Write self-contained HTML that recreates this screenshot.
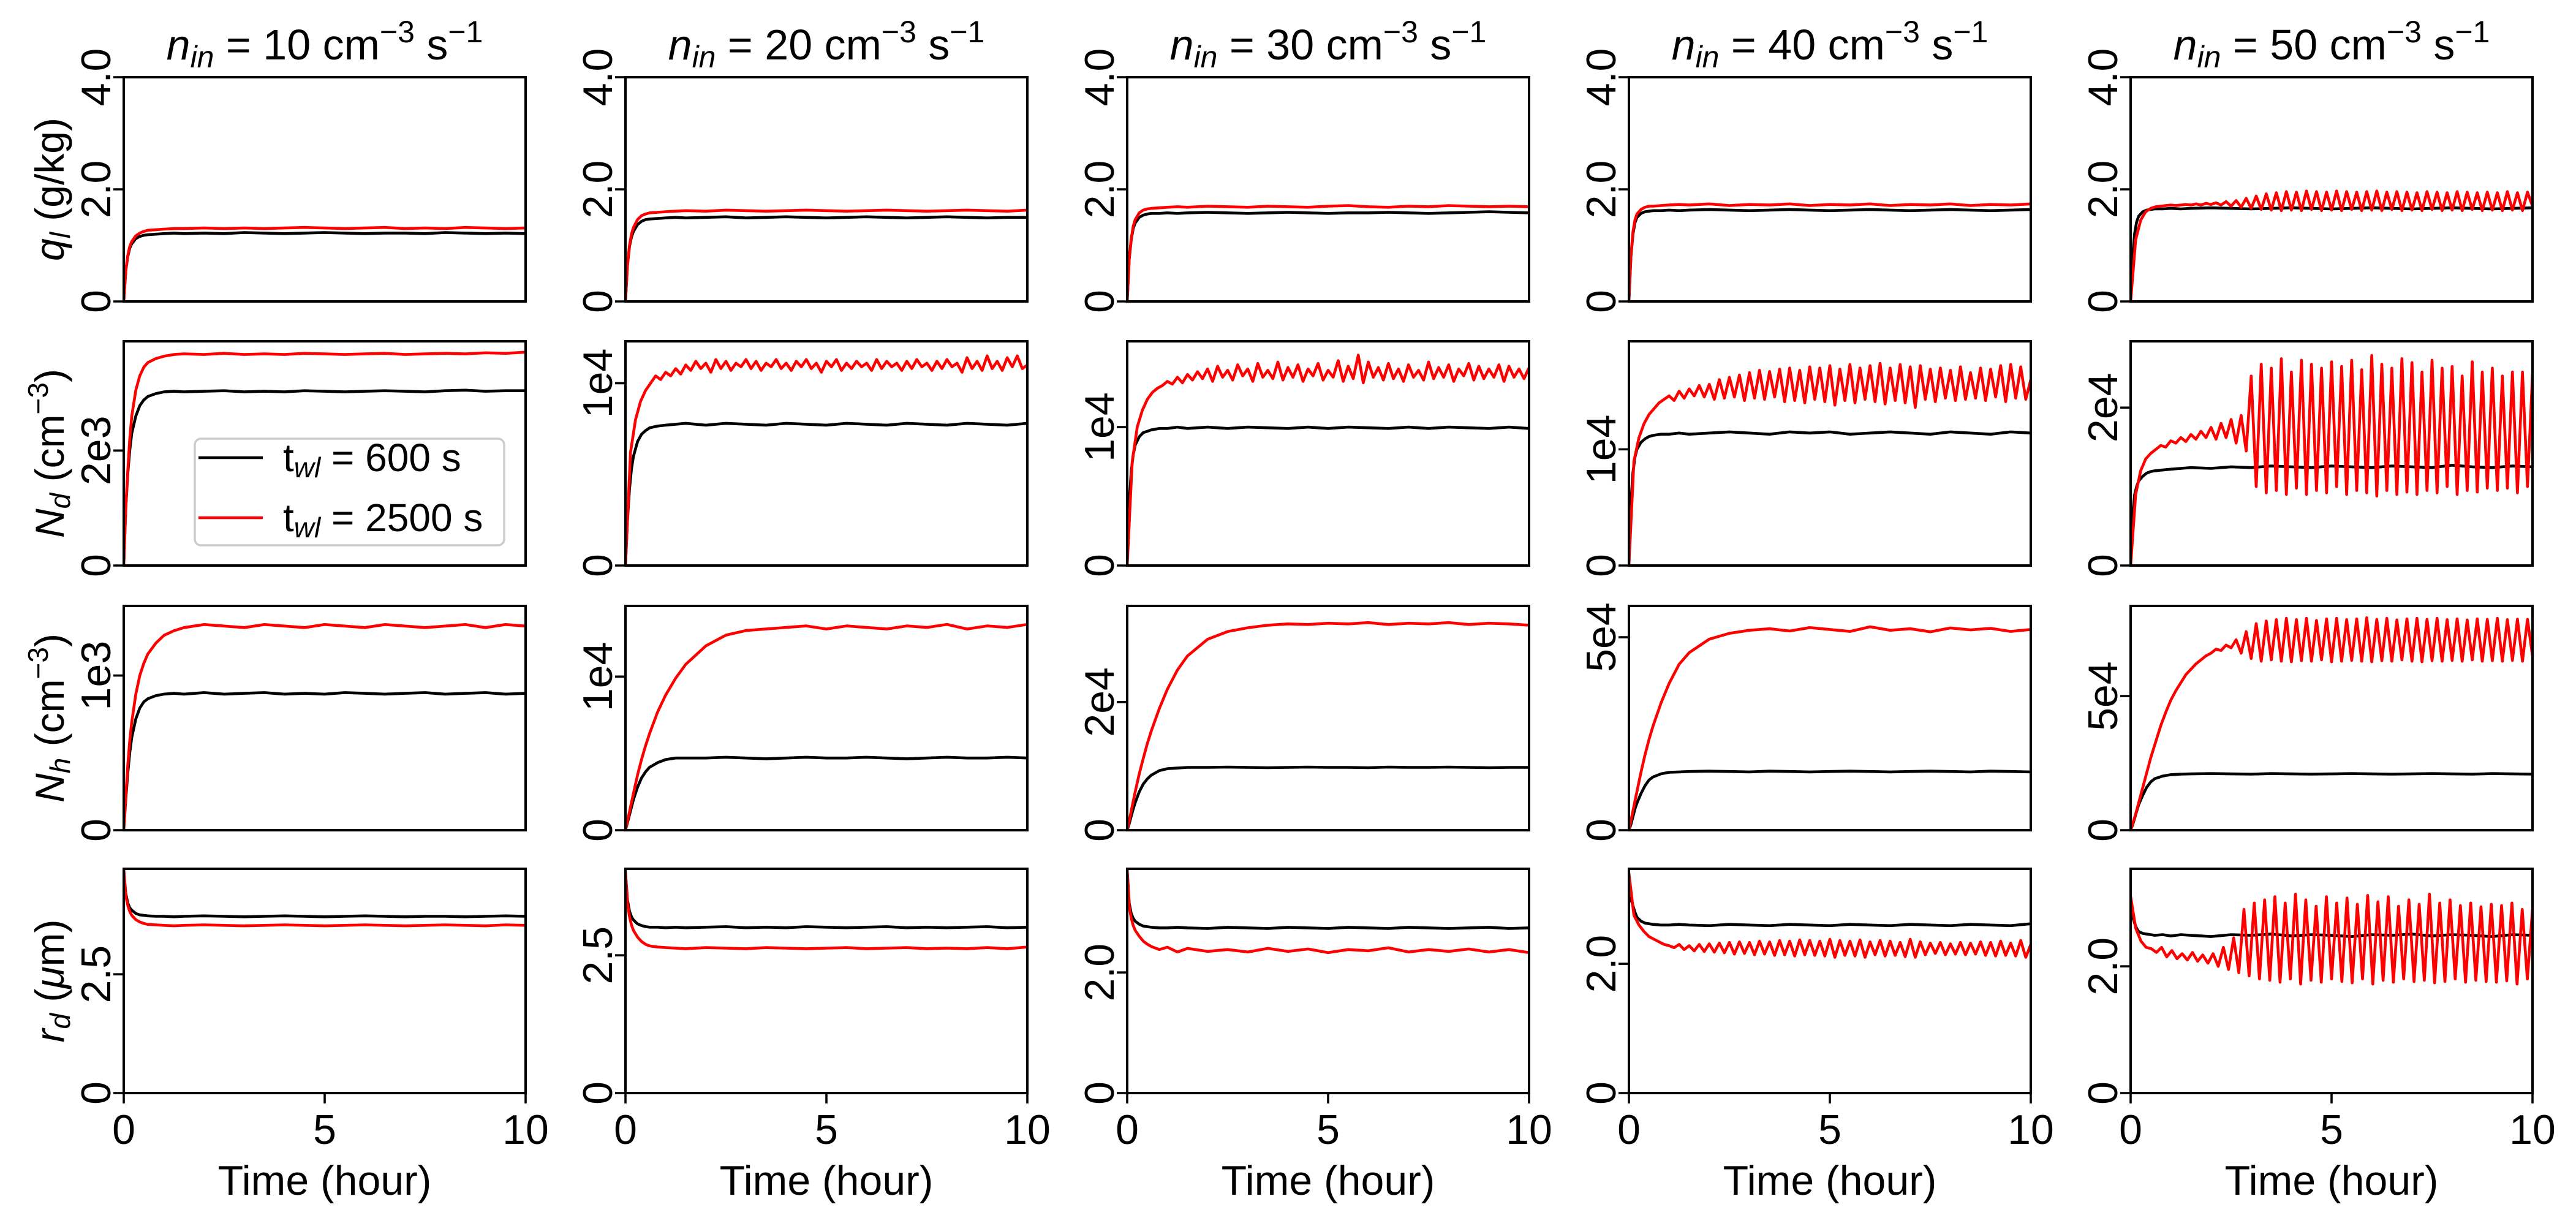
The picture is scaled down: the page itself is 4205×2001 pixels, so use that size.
<!DOCTYPE html>
<html><head><meta charset="utf-8">
<style>
html,body{margin:0;padding:0;background:#fff;}
svg{display:block;font-family:"Liberation Sans",sans-serif;}
</style></head>
<body>
<svg id="fig" xmlns="http://www.w3.org/2000/svg" width="4205" height="2001" viewBox="0 0 4205 2001">
<rect x="0" y="0" width="4205" height="2001" fill="#fff"/>
</svg>
<script>
// ---- shared time grid (hours) for the smooth series ----
const tA = [0,0.05,0.1,0.15,0.2,0.3,0.4,0.5,0.6,0.8,1,1.25,1.5,2,2.5,3,3.5,4,4.5,5,5.5,6,6.5,7,7.5,8,8.5,9,9.5,10];
// series on even grid 0..10 (0.125 h) are given as plain arrays and spread evenly

// ---- column titles ----
const inflowRates = ['10','20','30','40','50'];

// ---- row 1: q_l (g/kg) ----
const qB10 = [0,.55,.8,.95,1.03,1.12,1.16,1.18,1.19,1.2,1.21,1.22,1.21,1.22,1.21,1.23,1.22,1.21,1.22,1.23,1.22,1.21,1.22,1.22,1.21,1.23,1.22,1.21,1.22,1.21];
const qR10 = [0,.55,.82,.98,1.07,1.17,1.22,1.25,1.27,1.28,1.29,1.3,1.3,1.31,1.3,1.31,1.3,1.31,1.32,1.31,1.3,1.31,1.32,1.3,1.31,1.3,1.32,1.31,1.3,1.31];
const qB20 = [0,.65,.98,1.15,1.25,1.37,1.43,1.46,1.47,1.48,1.49,1.5,1.49,1.5,1.51,1.49,1.5,1.51,1.5,1.49,1.5,1.51,1.5,1.49,1.5,1.51,1.5,1.49,1.5,1.5];
const qR20 = [0,.66,1.0,1.2,1.32,1.46,1.53,1.56,1.58,1.59,1.6,1.61,1.62,1.61,1.63,1.62,1.61,1.62,1.63,1.62,1.61,1.62,1.63,1.62,1.61,1.62,1.63,1.62,1.61,1.63];
const qB30 = [0,.75,1.1,1.3,1.4,1.5,1.54,1.56,1.57,1.57,1.58,1.57,1.58,1.59,1.58,1.57,1.58,1.59,1.58,1.57,1.58,1.58,1.59,1.58,1.57,1.58,1.59,1.6,1.59,1.58];
const qR30 = [0,.76,1.12,1.34,1.46,1.58,1.63,1.65,1.66,1.67,1.68,1.69,1.68,1.7,1.69,1.68,1.7,1.69,1.68,1.7,1.71,1.69,1.68,1.7,1.69,1.71,1.7,1.69,1.7,1.69];
const qB40 = [0,.8,1.2,1.4,1.5,1.57,1.6,1.61,1.62,1.62,1.63,1.62,1.63,1.64,1.63,1.62,1.63,1.64,1.63,1.62,1.63,1.64,1.63,1.62,1.63,1.64,1.63,1.62,1.63,1.64];
const qR40 = [0,.82,1.24,1.45,1.56,1.64,1.68,1.7,1.7,1.71,1.72,1.73,1.72,1.74,1.71,1.73,1.72,1.74,1.71,1.73,1.72,1.74,1.71,1.73,1.72,1.74,1.71,1.73,1.72,1.74];
const qB50 = [0,.82,1.22,1.42,1.52,1.6,1.63,1.64,1.65,1.65,1.66,1.65,1.66,1.67,1.66,1.65,1.66,1.67,1.66,1.65,1.66,1.67,1.66,1.65,1.66,1.67,1.66,1.65,1.66,1.67];
const qR50 = [0,1.1,1.45,1.6,1.66,1.69,1.7,1.71,1.72,1.71,1.72,1.73,1.72,1.74,1.72,1.75,1.73,1.76,1.72,1.78,1.7,1.8,1.68,1.84,1.66,1.88,1.64,1.92,1.63,1.94,1.62,1.96,1.63,1.95,1.62,1.97,1.64,1.96,1.62,1.95,1.63,1.97,1.62,1.96,1.64,1.95,1.62,1.96,1.63,1.97,1.62,1.95,1.64,1.96,1.62,1.95,1.63,1.94,1.62,1.96,1.64,1.95,1.62,1.94,1.63,1.96,1.62,1.95,1.64,1.94,1.62,1.95,1.63,1.94,1.62,1.96,1.63,1.94,1.62,1.95,1.7];

// ---- row 2: N_d ----
const ndB10 = [0,1.0,1.6,2.0,2.3,2.6,2.78,2.88,2.94,2.99,3.02,3.03,3.02,3.03,3.04,3.02,3.03,3.02,3.04,3.03,3.02,3.03,3.04,3.03,3.02,3.04,3.05,3.03,3.04,3.04];
const ndR10 = [0,1.0,1.65,2.2,2.6,3.05,3.3,3.45,3.53,3.6,3.64,3.67,3.68,3.67,3.69,3.67,3.68,3.67,3.69,3.68,3.67,3.68,3.69,3.67,3.68,3.69,3.68,3.7,3.69,3.71];
const ndB20 = [0,.25,.42,.53,.6,.68,.72,.74,.755,.765,.77,.775,.78,.77,.78,.775,.77,.78,.775,.77,.78,.775,.77,.78,.775,.77,.78,.775,.77,.78];
const ndR20 = [0,.62,.8,.9,.96,1.0,1.04,1.02,1.06,1.04,1.08,1.05,1.1,1.07,1.12,1.08,1.11,1.06,1.13,1.08,1.12,1.07,1.11,1.09,1.13,1.08,1.12,1.07,1.11,1.09,1.13,1.08,1.11,1.07,1.12,1.09,1.13,1.08,1.11,1.06,1.12,1.09,1.13,1.07,1.11,1.08,1.12,1.09,1.11,1.07,1.13,1.08,1.12,1.09,1.11,1.07,1.12,1.08,1.13,1.09,1.11,1.07,1.12,1.08,1.13,1.09,1.11,1.06,1.14,1.08,1.12,1.07,1.15,1.08,1.12,1.07,1.14,1.09,1.15,1.08,1.1];
const ndB30 = [0,.45,.68,.8,.87,.93,.96,.97,.98,.99,.99,1.0,.99,1.0,.99,1.0,.995,.99,1.0,.99,1.0,.995,.99,1.0,.99,1.0,.995,.99,1.0,.99];
const ndR30 = [0,.75,1.0,1.12,1.2,1.25,1.28,1.3,1.33,1.31,1.36,1.32,1.38,1.34,1.4,1.35,1.42,1.33,1.44,1.36,1.41,1.34,1.45,1.37,1.42,1.33,1.46,1.36,1.41,1.35,1.47,1.34,1.43,1.36,1.45,1.33,1.42,1.37,1.46,1.34,1.41,1.36,1.48,1.33,1.44,1.35,1.52,1.32,1.47,1.36,1.43,1.34,1.46,1.35,1.42,1.33,1.45,1.36,1.41,1.34,1.47,1.35,1.43,1.36,1.45,1.33,1.42,1.37,1.46,1.34,1.44,1.35,1.42,1.36,1.45,1.33,1.44,1.36,1.42,1.35,1.43];
const ndB40 = [0,.55,.8,.93,1.0,1.06,1.09,1.11,1.12,1.13,1.13,1.14,1.13,1.14,1.15,1.14,1.13,1.15,1.14,1.15,1.13,1.14,1.15,1.14,1.13,1.15,1.14,1.13,1.15,1.14];
const ndR40 = [0,.9,1.1,1.22,1.3,1.35,1.4,1.43,1.46,1.42,1.5,1.44,1.52,1.46,1.55,1.45,1.56,1.43,1.6,1.44,1.62,1.45,1.64,1.42,1.66,1.44,1.68,1.43,1.67,1.45,1.69,1.41,1.7,1.42,1.68,1.4,1.71,1.43,1.7,1.41,1.72,1.38,1.69,1.42,1.73,1.4,1.7,1.43,1.72,1.41,1.74,1.39,1.7,1.42,1.73,1.4,1.71,1.36,1.72,1.43,1.69,1.41,1.7,1.44,1.68,1.42,1.71,1.43,1.66,1.44,1.7,1.42,1.69,1.45,1.72,1.41,1.73,1.44,1.71,1.43,1.6];
const ndB50 = [0,.65,.9,1.0,1.07,1.13,1.17,1.19,1.2,1.21,1.22,1.23,1.24,1.23,1.25,1.24,1.26,1.25,1.24,1.26,1.25,1.24,1.26,1.25,1.24,1.27,1.25,1.24,1.26,1.25];
const ndR50 = [0,.9,1.2,1.35,1.42,1.47,1.52,1.5,1.58,1.55,1.62,1.57,1.66,1.6,1.7,1.62,1.75,1.6,1.8,1.62,1.85,1.55,1.9,1.45,2.4,1.0,2.55,0.92,2.5,0.95,2.62,0.9,2.45,0.98,2.6,0.9,2.55,0.95,2.5,0.92,2.58,1.0,2.52,0.9,2.6,0.95,2.48,0.92,2.66,0.88,2.55,0.95,2.5,0.9,2.62,0.93,2.57,0.9,2.45,0.95,2.6,0.92,2.5,1.0,2.52,0.9,2.4,0.95,2.58,0.93,2.45,0.98,2.5,0.95,2.4,0.98,2.45,0.92,2.45,1.0,2.42];

// ---- row 3: N_h ----
const nhB10 = [0,.2,.37,.5,.6,.72,.79,.83,.85,.87,.88,.885,.88,.89,.88,.885,.89,.88,.885,.88,.89,.885,.88,.885,.89,.88,.885,.89,.88,.885];
const nhR10 = [0,.22,.42,.58,.7,.88,1.0,1.08,1.14,1.21,1.26,1.29,1.31,1.33,1.32,1.31,1.33,1.32,1.31,1.33,1.32,1.31,1.33,1.32,1.31,1.32,1.33,1.31,1.33,1.32];
const nhB20 = [0,.05,.1,.15,.2,.28,.34,.38,.41,.44,.46,.47,.47,.47,.475,.47,.465,.47,.475,.47,.47,.475,.47,.465,.47,.475,.47,.47,.475,.47];
const nhR20 = [0,.06,.12,.18,.24,.36,.46,.55,.63,.77,.88,.99,1.08,1.2,1.27,1.3,1.31,1.32,1.33,1.31,1.33,1.32,1.31,1.33,1.32,1.34,1.31,1.33,1.32,1.34];
const nhB30 = [0,.1,.22,.33,.43,.6,.72,.8,.86,.93,.96,.97,.98,.98,.985,.98,.975,.98,.985,.98,.98,.975,.985,.98,.98,.985,.98,.975,.98,.98];
const nhR30 = [0,.15,.3,.45,.6,.88,1.12,1.35,1.55,1.9,2.2,2.5,2.72,2.98,3.1,3.16,3.2,3.22,3.21,3.23,3.22,3.24,3.21,3.23,3.22,3.24,3.21,3.23,3.22,3.2];
const nhB40 = [0,.15,.35,.55,.7,.95,1.15,1.3,1.38,1.46,1.5,1.51,1.52,1.53,1.52,1.51,1.53,1.52,1.51,1.52,1.53,1.52,1.51,1.52,1.53,1.52,1.51,1.53,1.52,1.51];
const nhR40 = [0,.25,.5,.75,1.0,1.5,1.95,2.35,2.7,3.3,3.8,4.3,4.6,4.95,5.1,5.18,5.22,5.16,5.25,5.2,5.15,5.27,5.18,5.22,5.14,5.24,5.19,5.23,5.15,5.2];
const nhB50 = [0,.2,.45,.7,.95,1.3,1.6,1.8,1.92,2.02,2.07,2.09,2.1,2.11,2.1,2.09,2.11,2.1,2.09,2.1,2.11,2.1,2.09,2.1,2.11,2.1,2.09,2.11,2.1,2.09];
const nhR50 = [0,.6,1.3,2.0,2.7,3.3,3.9,4.4,4.85,5.2,5.5,5.8,6.0,6.2,6.35,6.5,6.6,6.75,6.7,6.9,6.8,7.1,6.6,7.4,6.4,7.7,6.3,7.8,6.35,7.85,6.3,7.9,6.28,7.85,6.32,7.9,6.3,7.82,6.35,7.88,6.28,7.9,6.3,7.85,6.33,7.88,6.3,7.92,6.28,7.86,6.32,7.9,6.3,7.84,6.35,7.88,6.3,7.9,6.28,7.86,6.32,7.9,6.3,7.85,6.33,7.88,6.3,7.84,6.35,7.88,6.3,7.86,6.32,7.9,6.3,7.85,6.33,7.87,6.3,7.86,6.5];

// ---- row 4: r_d (um) ----
const rdB10 = [4.7,4.2,4.0,3.9,3.85,3.78,3.75,3.74,3.73,3.72,3.72,3.71,3.72,3.73,3.72,3.71,3.72,3.73,3.72,3.71,3.72,3.73,3.72,3.71,3.72,3.72,3.71,3.72,3.73,3.72];
const rdR10 = [4.7,4.15,3.95,3.82,3.74,3.65,3.6,3.57,3.55,3.54,3.53,3.52,3.53,3.54,3.53,3.52,3.53,3.54,3.53,3.52,3.53,3.54,3.53,3.52,3.53,3.54,3.53,3.52,3.54,3.53];
const rdB20 = [4.0,3.5,3.3,3.2,3.14,3.07,3.04,3.02,3.01,3.01,3.0,3.01,3.0,3.01,3.02,3.0,3.01,3.0,3.02,3.01,3.0,3.01,3.02,3.0,3.01,3.0,3.01,3.02,3.0,3.01];
const rdR20 = [4.0,3.45,3.2,3.05,2.95,2.83,2.75,2.7,2.67,2.65,2.64,2.63,2.62,2.64,2.63,2.62,2.64,2.63,2.62,2.63,2.64,2.62,2.63,2.64,2.62,2.63,2.62,2.64,2.62,2.65];
const rdB30 = [3.7,3.15,2.98,2.9,2.85,2.8,2.77,2.76,2.75,2.74,2.74,2.75,2.74,2.73,2.75,2.74,2.73,2.75,2.74,2.73,2.75,2.74,2.73,2.75,2.74,2.73,2.74,2.75,2.73,2.74];
const rdR30 = [3.7,3.1,2.9,2.78,2.7,2.6,2.52,2.47,2.43,2.38,2.42,2.34,2.4,2.35,2.38,2.34,2.4,2.35,2.39,2.33,2.38,2.36,2.41,2.34,2.38,2.35,2.39,2.34,2.38,2.33];
const rdB40 = [3.4,3.0,2.9,2.8,2.72,2.66,2.63,2.62,2.61,2.6,2.6,2.61,2.6,2.59,2.61,2.6,2.59,2.61,2.6,2.59,2.61,2.6,2.59,2.61,2.6,2.59,2.61,2.6,2.59,2.62];
const rdR40 = [3.4,2.75,2.6,2.5,2.42,2.38,2.34,2.3,2.28,2.25,2.3,2.22,2.28,2.2,2.3,2.19,2.31,2.18,2.32,2.17,2.33,2.15,2.34,2.16,2.33,2.14,2.35,2.15,2.34,2.13,2.36,2.14,2.35,2.12,2.37,2.14,2.36,2.13,2.35,2.12,2.38,2.1,2.36,2.13,2.35,2.12,2.37,2.1,2.34,2.14,2.36,2.12,2.35,2.13,2.33,2.11,2.38,2.1,2.34,2.14,2.32,2.16,2.33,2.14,2.31,2.15,2.33,2.14,2.32,2.15,2.34,2.13,2.33,2.12,2.35,2.13,2.32,2.12,2.36,2.1,2.3];
const rdB50 = [3.0,2.78,2.68,2.6,2.55,2.52,2.51,2.5,2.49,2.5,2.48,2.5,2.49,2.47,2.5,2.49,2.51,2.48,2.5,2.49,2.47,2.5,2.49,2.51,2.48,2.5,2.49,2.47,2.5,2.49];
const rdR50 = [3.1,2.6,2.4,2.3,2.28,2.22,2.3,2.15,2.25,2.12,2.2,2.1,2.22,2.08,2.18,2.05,2.2,2.0,2.3,1.95,2.45,1.9,2.9,1.85,3.0,1.8,3.05,1.78,3.1,1.75,3.0,1.8,3.14,1.72,3.05,1.78,2.95,1.75,3.1,1.8,3.0,1.76,3.08,1.74,2.98,1.8,3.12,1.72,3.02,1.78,3.1,1.75,2.95,1.8,3.05,1.76,2.98,1.78,3.14,1.74,3.0,1.76,3.05,1.8,2.96,1.75,3.0,1.78,2.94,1.76,2.98,1.75,2.96,1.77,3.0,1.72,2.9,1.8,2.9];

// ---- axis limits & tick labels (per row, per column) ----
const yMaxQ  = [4,4,4,4,4];
const yMaxNd = [3.9,1.23,1.62,1.93,2.84];
const yMaxNh = [1.45,1.46,3.5,5.81,8.36];
const yMaxRd = [4.72,4.07,3.72,3.47,3.54];
const tickValQ  = [0,2,4];
const tickLblQ  = ['0','2.0','4.0'];
const tickValNd = [2,1,1,1,2];
const tickLblNd = ['2e3','1e4','1e4','1e4','2e4'];
const tickValNh = [1,1,2,5,5];
const tickLblNh = ['1e3','1e4','2e4','5e4','5e4'];
const tickValRd = [2.5,2.5,2,2,2];
const tickLblRd = ['2.5','2.5','2.0','2.0','2.0'];
const xTicks = [0,5,10];
const xTickLbl = ['0','5','10'];

const blackSeries = [[qB10,qB20,qB30,qB40,qB50],[ndB10,ndB20,ndB30,ndB40,ndB50],[nhB10,nhB20,nhB30,nhB40,nhB50],[rdB10,rdB20,rdB30,rdB40,rdB50]];
const redSeries   = [[qR10,qR20,qR30,qR40,qR50],[ndR10,ndR20,ndR30,ndR40,ndR50],[nhR10,nhR20,nhR30,nhR40,nhR50],[rdR10,rdR20,rdR30,rdR40,rdR50]];
const rowNames = ['ql','nd','nh','rd'];

// ---- layout ----
const NS = 'http://www.w3.org/2000/svg';
const svg = document.getElementById('fig');
const L0 = 202, DX = 819, W = 656, H = 366;
const TOPS = [126, 557, 989, 1418];
function mk(tag, attrs, parent){
  const e = document.createElementNS(NS, tag);
  for (const k in attrs) e.setAttribute(k, attrs[k]);
  (parent||svg).appendChild(e);
  return e;
}
function rowYMax(r,c){ return [yMaxQ,yMaxNd,yMaxNh,yMaxRd][r][c]; }

const defs = mk('defs', {});
for (let r=0;r<4;r++){
  for (let c=0;c<5;c++){
    const left = L0 + DX*c, top = TOPS[r], bottom = top+H;
    const ymax = rowYMax(r,c);
    const xs = t => left + t/10*W;
    const ys = v => bottom - v/ymax*H;
    const g = mk('g', {});
    
    
    const cp = mk('clipPath', {id:'cp'+r+'_'+c}, defs);
    mk('rect', {x:left, y:top, width:W, height:H}, cp);
    [[blackSeries[r][c],'#000','black'],[redSeries[r][c],'#ff0000','red']].forEach(([vals,col,nm])=>{
      const even = vals.length !== tA.length;
      let d = '';
      vals.forEach((v,i)=>{
        const t = even ? i*10/(vals.length-1) : tA[i];
        d += (i?'L':'M') + xs(t).toFixed(1) + ',' + ys(v).toFixed(1);
      });
      const p = mk('path', {d:d, fill:'none', stroke:col, 'stroke-width':4.6, 'stroke-linejoin':'round', 'clip-path':'url(#cp'+r+'_'+c+')'}, g);
      
      
    });
    const fr = mk('rect', {x:left, y:top, width:W, height:H, fill:'none', stroke:'#000', 'stroke-width':4}, g);
    
    
    let tv, tl;
    if (r===0){ tv = tickValQ; tl = tickLblQ; }
    else { tv = [0, [tickValNd,tickValNh,tickValRd][r-1][c]]; tl = ['0', [tickLblNd,tickLblNh,tickLblRd][r-1][c]]; }
    tv.forEach((v,i)=>{
      const y = ys(v);
      mk('line', {x1:left-17, x2:left, y1:y, y2:y, stroke:'#000', 'stroke-width':3.6}, g);
      const bx = left-22;
      const tx = mk('text', {x:bx, y:y, 'font-size':68, 'text-anchor':'middle', transform:'rotate(-90 '+bx+' '+y+')'}, g);
      tx.textContent = tl[i];
      
      
    });
    if (r===3){
      xTicks.forEach((t,i)=>{
        const x = xs(t);
        mk('line', {x1:x, x2:x, y1:bottom, y2:bottom+17, stroke:'#000', 'stroke-width':3.6}, g);
        const tx = mk('text', {x:x, y:1867, 'font-size':68, 'text-anchor':'middle'}, g);
        tx.textContent = xTickLbl[i];
        
        
      });
      const xl = mk('text', {x:left+W/2, y:1950, 'font-size':68, 'text-anchor':'middle'}, g);
      xl.textContent = 'Time (hour)';
      
      
    }
    if (r===0){
      const tt = mk('text', {x:left+W/2, y:97, 'font-size':70, 'text-anchor':'middle'}, g);
      
      
      tt.innerHTML = '<tspan font-style="italic">n</tspan><tspan font-style="italic" font-size="50" dy="13">in</tspan><tspan dy="-13"> = '+inflowRates[c]+' cm</tspan><tspan font-size="50" dy="-28">\u22123</tspan><tspan dy="28"> s</tspan><tspan font-size="50" dy="-28">\u22121</tspan>';
    }
  }
}

// ---- y axis titles (left column) ----
const yTitles = [
  '<tspan font-style="italic">q</tspan><tspan font-style="italic" font-size="46" dy="10">l</tspan><tspan dy="-10"> (g/kg)</tspan>',
  '<tspan font-style="italic">N</tspan><tspan font-style="italic" font-size="46" dy="10">d</tspan><tspan dy="-10"> (cm</tspan><tspan font-size="46" dy="-26">\u22123</tspan><tspan dy="26">)</tspan>',
  '<tspan font-style="italic">N</tspan><tspan font-style="italic" font-size="46" dy="10">h</tspan><tspan dy="-10"> (cm</tspan><tspan font-size="46" dy="-26">\u22123</tspan><tspan dy="26">)</tspan>',
  '<tspan font-style="italic">r</tspan><tspan font-style="italic" font-size="46" dy="10">d</tspan><tspan dy="-10"> (</tspan><tspan font-style="italic">\u03bc</tspan><tspan>m)</tspan>'
];
yTitles.forEach((h,r)=>{
  const cy = TOPS[r]+H/2, cx = 104;
  const t = mk('text', {x:cx, y:cy, 'font-size':66, 'text-anchor':'middle', transform:'rotate(-90 '+cx+' '+cy+')'});
  
  
  t.innerHTML = h;
});

// ---- legend ----
const lg = mk('g', {});


mk('rect', {x:318, y:716, width:505, height:174, rx:10, fill:'#fff', 'fill-opacity':0.8, stroke:'#cccccc', 'stroke-width':3.5}, lg);
[['#000','600',747],['#ff0000','2500',845]].forEach(([col,val,y])=>{
  const e = mk('g', {}, lg);
  
  
  mk('line', {x1:324, x2:429, y1:y, y2:y, stroke:col, 'stroke-width':4.6}, e);
  const t = mk('text', {x:462, y:y+22, 'font-size':64}, e);
  t.innerHTML = 't<tspan font-style="italic" font-size="46" dy="10">wl</tspan><tspan dy="-10"> = '+val+' s</tspan>';
});
</script>
</body></html>
